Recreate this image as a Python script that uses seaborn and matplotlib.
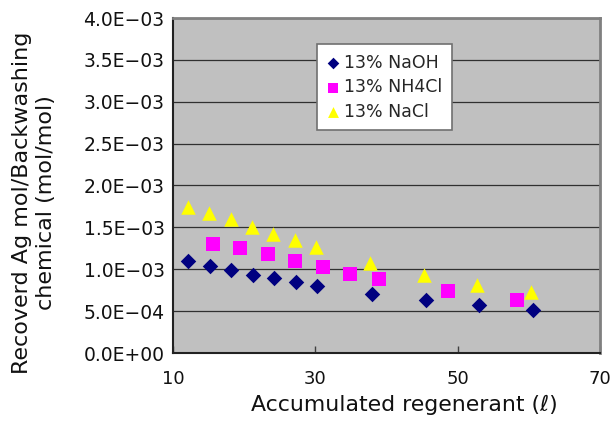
import matplotlib
matplotlib.use("Agg")
import matplotlib.pyplot as plt
import seaborn as sns
import pandas as pd
from matplotlib.markers import MarkerStyle
from matplotlib.ticker import FixedLocator, FuncFormatter

# ---- data ----
naoh_x = [12.1, 15.2, 18.2, 21.3, 24.2, 27.3, 30.3, 37.9, 45.5, 53.0, 60.6]
naoh_y = [1.095e-3, 1.044e-3, 0.996e-3, 0.937e-3, 0.893e-3, 0.842e-3, 0.798e-3,
          0.706e-3, 0.631e-3, 0.568e-3, 0.515e-3]
nh4cl_x = [15.6, 19.4, 23.3, 27.2, 31.1, 34.9, 38.9, 48.6, 58.3]
nh4cl_y = [1.30e-3, 1.25e-3, 1.18e-3, 1.10e-3, 1.03e-3, 0.949e-3, 0.881e-3,
           0.735e-3, 0.627e-3]
nacl_x = [12.1, 15.1, 18.1, 21.1, 24.1, 27.1, 30.1, 37.7, 45.2, 52.7, 60.3]
nacl_y = [1.742e-3, 1.67e-3, 1.595e-3, 1.508e-3, 1.425e-3, 1.345e-3, 1.262e-3,
          1.071e-3, 0.929e-3, 0.813e-3, 0.723e-3]
series_names = ["13% NaOH", "13% NH4Cl", "13% NaCl"]
x_ticks = [10, 30, 50, 70]
y_ticks = [0.0, 5e-4, 1e-3, 1.5e-3, 2e-3, 2.5e-3, 3e-3, 3.5e-3, 4e-3]

sns.set_theme(style="white")
plt.rcParams['font.family'] = ['DejaVu Sans']

DPI = 100
fig = plt.figure(figsize=(6.14, 4.23), dpi=DPI)
ax = fig.add_axes([173/614, 1-353/423, 427/614, 335/423])
ax.set_facecolor("#C0C0C0")


def area_for_width(marker, width_px):
    ms = MarkerStyle(marker)
    ext = ms.get_path().transformed(ms.get_transform()).get_extents()
    size_pt = width_px * 72 / DPI / ext.width
    return size_pt ** 2


styles = [
    (naoh_x, naoh_y, "D", "#000080", 15.5),
    (nh4cl_x, nh4cl_y, "s", "#FF00FF", 14),
    (nacl_x, nacl_y, "^", "#FFFF00", 14.5),
]
for name, (xs, ys, m, c, w) in zip(series_names, styles):
    df = pd.DataFrame({"x": xs, "y": ys})
    sns.scatterplot(data=df, x="x", y="y", marker=m, color=c,
                    s=area_for_width(m, w), linewidth=0, label=name, ax=ax,
                    zorder=3)

ax.set_xlim(10, 70)
ax.set_ylim(0, 4e-3)
ax.xaxis.set_major_locator(FixedLocator(x_ticks))
ax.yaxis.set_major_locator(FixedLocator(y_ticks))
ax.yaxis.set_major_formatter(FuncFormatter(lambda v, p: f"{v:.1E}".replace("-", "\u2212")))
ax.grid(axis="y", color="#303030", linewidth=0.9)
ax.grid(axis="x", visible=False)
ax.set_axisbelow(True)
ax.tick_params(axis="x", direction="in", length=5, width=1, color="#404040",
               pad=12, labelsize=13, labelcolor="#111111", bottom=True)
ax.tick_params(axis="y", direction="in", length=0, pad=6, labelsize=13.5,
               labelcolor="#111111", left=True)
for side in ["left", "bottom"]:
    ax.spines[side].set_color("#222222")
    ax.spines[side].set_linewidth(1.5)
for side in ["top", "right"]:
    ax.spines[side].set_color("#808080")
    ax.spines[side].set_linewidth(2)
ax.set_xlabel("")
ax.set_ylabel("")

fig.text(34/614, 1-203/423, "Recoverd Ag mol/Backwashing\nchemical (mol/mol)",
         rotation=90, ha="center", va="center", multialignment="center",
         fontsize=16, color="#111111", linespacing=1.3)
fig.text(404/614, 1-405/423, "Accumulated regenerant (\u2113)",
         ha="center", va="center", fontsize=15.8, color="#111111")

leg = ax.legend(loc="upper left", bbox_to_anchor=((317-173)/427, (353-44)/335),
                borderaxespad=0, frameon=True, fancybox=False, fontsize=12.5,
                handlelength=0.8, handletextpad=0.2, markerscale=0.75,
                borderpad=0.55, labelspacing=0.38)
leg.get_frame().set_facecolor("white")
leg.get_frame().set_edgecolor("#707070")
leg.get_frame().set_linewidth(1.2)
leg.get_frame().set_alpha(1)

fig.savefig("out.png", dpi=DPI)
